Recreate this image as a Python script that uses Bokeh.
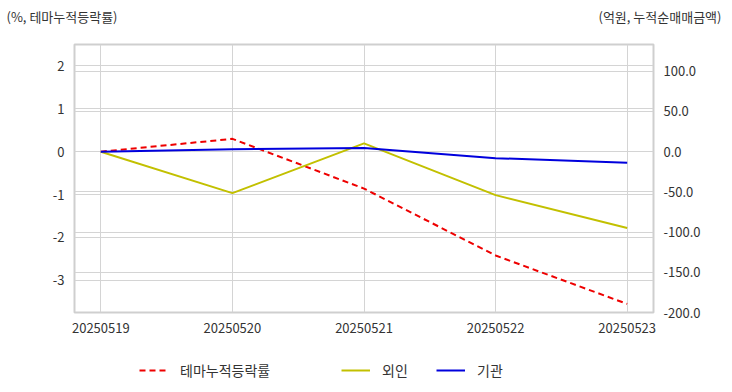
from bokeh.plotting import figure
from bokeh.layouts import column
from bokeh.models import (Range1d, LinearAxis, Legend, LegendItem, FixedTicker,
                          PrintfTickFormatter, Grid, ColumnDataSource)
from bokeh.embed import file_html
from bokeh.resources import INLINE

dates = ["20250519", "20250520", "20250521", "20250522", "20250523"]
theme = [0.0, 0.30, -0.86, -2.42, -3.55]
foreign = [0.0, -51.5, 10.3, -54.0, -95.0]
inst = [0.0, 3.0, 4.5, -8.0, -13.7]
left_ticks = [-3, -2, -1, 0, 1, 2]
right_ticks = [-200, -150, -100, -50, 0, 50, 100]
left_unit = "(%, 테마누적등락률)"
right_unit = "(억원, 누적순매매금액)"
series_names = ["테마누적등락률", "외인", "기관"]

FONT = "Noto Sans CJK KR"
TXT = "#333333"
GRID = "#d4d4d4"
W = 724
BL, BR = 74, W - 656

RED, YEL, BLU = "#ee0000", "#c2c000", "#0000dd"
RED_DASH = "6 4"

xs = list(range(len(dates)))
src = ColumnDataSource(dict(x=xs, theme=theme, foreign=foreign, inst=inst))


def style_axis(ax, size="13px"):
    ax.axis_line_color = None
    ax.major_tick_line_color = None
    ax.minor_tick_line_color = None
    ax.major_label_text_font = FONT
    ax.major_label_text_font_size = size
    ax.major_label_text_color = TXT


# ---- header strip: unit captions as axis labels of a thin figure
head = figure(width=W, height=36, x_range=Range1d(0, 1), y_range=Range1d(0, 36),
              x_axis_type=None, y_axis_type=None, output_backend="svg", toolbar_location=None,
              min_border_left=BL, min_border_right=BR, min_border_top=0, min_border_bottom=0)
head.outline_line_color = None
head.grid.visible = False
hl = LinearAxis(ticker=FixedTicker(ticks=[20]), major_label_overrides={20: left_unit})
hr = LinearAxis(ticker=FixedTicker(ticks=[20]), major_label_overrides={20: right_unit})
style_axis(hl, "13px")
style_axis(hr, "13px")
hl.major_label_standoff = -49
hr.major_label_standoff = -61
head.add_layout(hl, "left")
head.add_layout(hr, "right")

# ---- main chart
p = figure(width=W, height=304, x_range=Range1d(-0.2, 4.2), y_range=Range1d(-3.75, 2.5),
           output_backend="svg", toolbar_location=None,
           min_border_left=BL, min_border_right=BR, min_border_top=8, min_border_bottom=28)
p.extra_y_ranges = {"right": Range1d(-200, 133.333)}
p.outline_line_color = "#cfcfcf"
p.outline_line_width = 2

p.xaxis.ticker = FixedTicker(ticks=xs)
p.xaxis.major_label_overrides = {i: d for i, d in enumerate(dates)}
p.yaxis.ticker = FixedTicker(ticks=left_ticks)
p.yaxis.formatter = PrintfTickFormatter(format="%d")
right_axis = LinearAxis(y_range_name="right", ticker=FixedTicker(ticks=right_ticks),
                        formatter=PrintfTickFormatter(format="%.1f"))
p.add_layout(right_axis, "right")

for ax in [p.xaxis[0], p.yaxis[0], right_axis]:
    style_axis(ax)
    ax.major_label_standoff = 4

p.xgrid.grid_line_color = GRID
p.ygrid.grid_line_color = GRID
p.add_layout(Grid(dimension=1, ticker=right_axis.ticker, y_range_name="right",
                  grid_line_color=GRID))

p.line("x", "theme", source=src, line_color=RED, line_width=2, line_dash=RED_DASH)
p.line("x", "foreign", source=src, y_range_name="right", line_color=YEL, line_width=2)
p.line("x", "inst", source=src, y_range_name="right", line_color=BLU, line_width=2)

# ---- legend strip (series drawn off-range so that only legend swatches show)
leg = figure(width=W, height=44, x_range=Range1d(-0.2, 4.2), y_range=Range1d(1000, 1001),
             x_axis_type=None, y_axis_type=None, output_backend="svg", toolbar_location=None,
             min_border_left=BL, min_border_right=BR, min_border_top=0, min_border_bottom=0)
leg.outline_line_color = None
leg.grid.visible = False
lr_theme = leg.line("x", "theme", source=src, line_color=RED, line_width=2, line_dash=RED_DASH)
lr_for = leg.line("x", "foreign", source=src, line_color=YEL, line_width=2)
lr_inst = leg.line("x", "inst", source=src, line_color=BLU, line_width=2)


def mk_legend(label, r, x):
    lg = Legend(items=[LegendItem(label=label, renderers=[r])], location=(x, 4),
                orientation="horizontal", border_line_color=None, background_fill_alpha=0,
                padding=0, margin=0, glyph_width=29, glyph_height=20, label_height=20,
                label_standoff=12, label_text_font=FONT, label_text_font_size="14px",
                label_text_color=TXT)
    leg.add_layout(lg, "center")


mk_legend(series_names[0], lr_theme, 139 - BL)
mk_legend(series_names[1], lr_for, 341 - BL)
mk_legend(series_names[2], lr_inst, 436 - BL)

layout = column(head, p, leg, spacing=0)
open("out.html", "w").write(file_html(layout, INLINE))
